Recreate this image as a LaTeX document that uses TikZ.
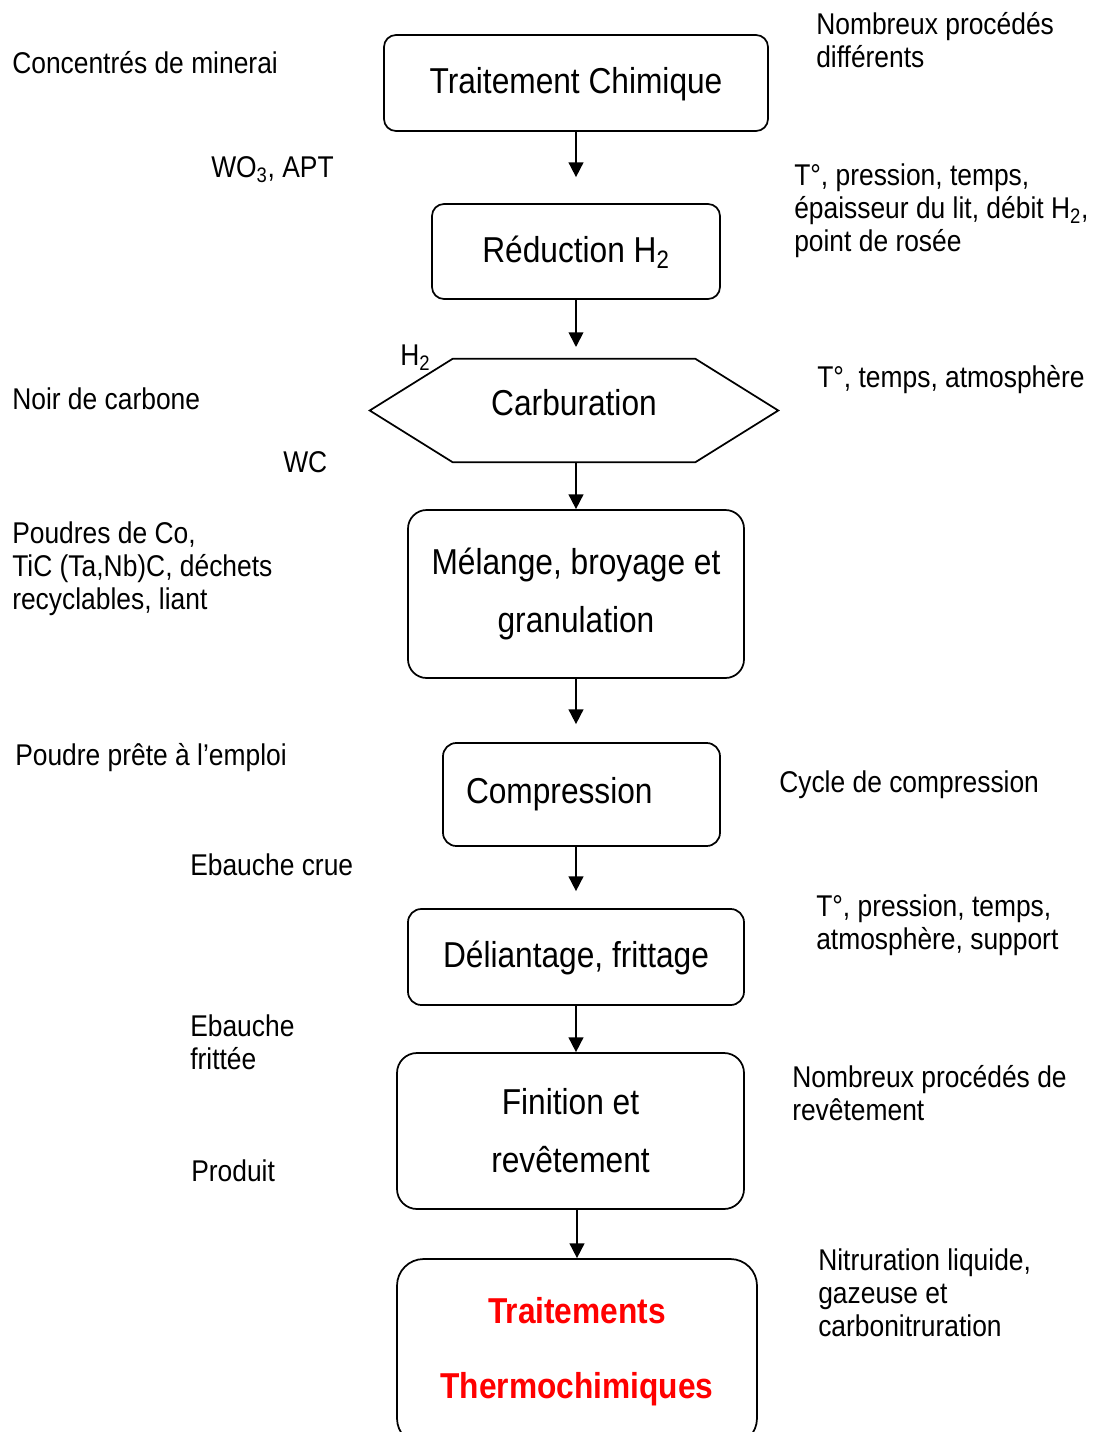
\documentclass[tikz,border=0pt]{standalone}
\usepackage{fontspec}
\setmainfont{Liberation Sans}[FakeStretch=0.88]
\usetikzlibrary{arrows.meta,calc}
\begin{document}
\begin{tikzpicture}[x=0.75pt,y=-0.75pt,
  lbl/.style={anchor=west,inner sep=0pt,align=left,yshift=-2.25pt,font=\fontsize{22.5}{24.75}\selectfont},
  box/.style={draw,line width=1.3pt,align=center,inner sep=0pt,font=\fontsize{27}{43.5}\selectfont},
  arr/.style={line width=1.3pt,-{Triangle[length=11pt,width=11pt]}}]
\useasboundingbox (0,0) rectangle (1095,1432);
% boxes
\node[box,rounded corners=9pt,minimum width=288pt,minimum height=72pt,text depth=4pt] (b1) at (576,83) {Traitement Chimique};
\node[box,rounded corners=9pt,minimum width=216pt,minimum height=71.25pt,text depth=4pt] (b2) at (576,251.5) {Réduction H\textsubscript{2}};
\node[inner sep=0pt,minimum width=306pt,minimum height=77.25pt] (carb) at (574,410.5) {};
\node[inner sep=0pt,font=\fontsize{27}{43.5}\selectfont] (carbtxt) at (574,403) {Carburation};
\draw[line width=1.3pt] (carb.west) -- ($(carb.north west)+(83,0)$) -- ($(carb.north east)+(-83,0)$) -- (carb.east) -- ($(carb.south east)+(-83,0)$) -- ($(carb.south west)+(83,0)$) -- cycle;
\coordinate (hbot) at (576,462);
\coordinate (htop) at (576,359);
\node[box,rounded corners=14pt,minimum width=252pt,minimum height=126pt] (b3) at (576,594) {Mélange, broyage et\\granulation};
\node[box,rounded corners=10pt,minimum height=77.25pt,text width=173.25pt,inner xsep=17.25pt,align=left] (b4) at (581.5,794.5) {Compression};
\node[box,rounded corners=10pt,minimum width=252pt,minimum height=72pt,text depth=4pt] (b5) at (576,957) {Déliantage, frittage};
\node[box,rounded corners=15pt,minimum width=260.25pt,minimum height=117pt] (b6) at (570.5,1131) {Finition et\\revêtement};
\node[box,rounded corners=20pt,minimum width=270pt,minimum height=139.5pt,text=red,font=\fontsize{27}{56}\selectfont\bfseries] (b7) at (577,1352) {Traitements\\Thermochimiques};
% arrows
\draw[arr,shorten >=19.5pt] (b1.south) -- (b2.north);
\draw[arr,shorten >=9pt] (b2.south) -- (htop);
\draw[arr] (hbot) -- (b3.north);
\draw[arr,shorten >=13.5pt] (b3.south) -- (b3.south |- b4.north);
\draw[arr,shorten >=12.75pt] (b5.north |- b4.south) -- (b5.north);
\draw[arr] (b5.south) -- (b5.south |- b6.north);
\draw[arr] (b7.north |- b6.south) -- (b7.north);
% labels
\node[lbl] (l1) at (12,60) {Concentrés de minerai};
\node[lbl] (l2) at (816,37.5) {Nombreux procédés\\différents};
\node[lbl] (l3) at (211,167) {WO\textsubscript{3}, APT};
\node[lbl] (l4) at (794,208) {T°, pression, temps,\\épaisseur du lit, débit H\textsubscript{2},\\point de rosée};
\node[lbl] (l5) at (400,355) {H\textsubscript{2}};
\node[lbl] (l6) at (12,396) {Noir de carbone};
\node[lbl] (l7) at (817,377) {T°, temps, atmosphère};
\node[lbl] (l8) at (283,459) {WC};
\node[lbl] (l9) at (12,566) {Poudres de Co,\\TiC (Ta,Nb)C, déchets\\recyclables, liant};
\node[lbl] (l10) at (15,755) {Poudre prête à l’emploi};
\node[lbl] (l11) at (779,782) {Cycle de compression};
\node[lbl] (l12) at (190,862) {Ebauche crue};
\node[lbl] (l13) at (816,922.5) {T°, pression, temps,\\atmosphère, support};
\node[lbl] (l14) at (190,1039.5) {Ebauche\\frittée};
\node[lbl] (l15) at (792,1090.5) {Nombreux procédés de\\revêtement};
\node[lbl] (l16) at (191,1168) {Produit};
\node[lbl] (l17) at (818,1289.5) {Nitruration liquide,\\gazeuse et\\carbonitruration};
\end{tikzpicture}
\end{document}
